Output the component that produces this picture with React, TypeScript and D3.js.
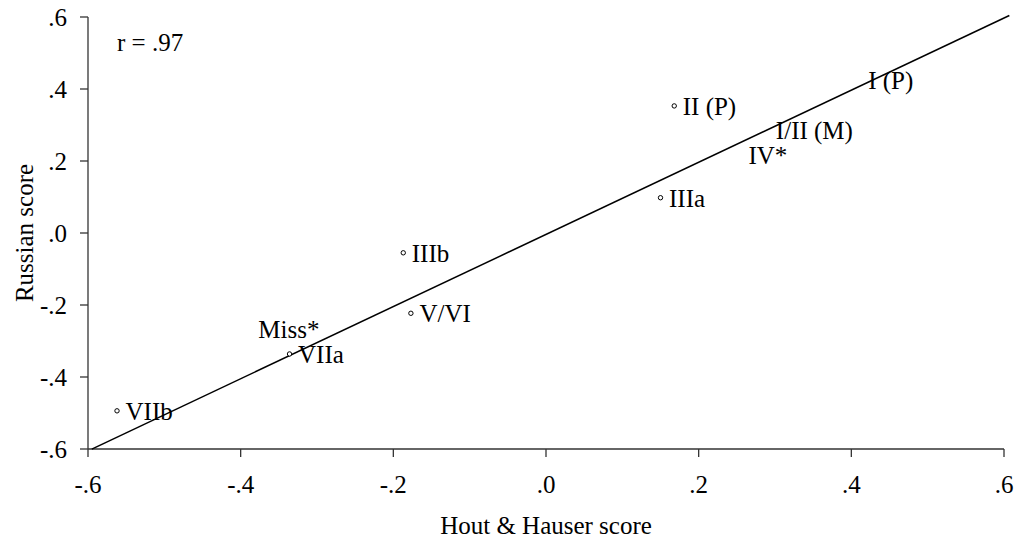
import React from "react";
import * as d3 from "d3";

// ---- Data ----
const labels = ["I (P)", "II (P)", "I/II (M)", "IV*", "IIIa", "IIIb", "V/VI", "Miss*", "VIIa", "VIIb"];
const houtHauser = [0.411, 0.168, 0.29, 0.254, 0.15, -0.187, -0.177, -0.388, -0.336, -0.562];
const russian = [0.425, 0.353, 0.285, 0.216, 0.098, -0.055, -0.223, -0.268, -0.336, -0.494];
const showMarker = [false, true, false, false, true, true, true, false, true, true];

const xTicks = [-0.6, -0.4, -0.2, 0, 0.2, 0.4, 0.6];
const xTickLabels = ["-.6", "-.4", "-.2", ".0", ".2", ".4", ".6"];
const yTicks = [-0.6, -0.4, -0.2, 0, 0.2, 0.4, 0.6];
const yTickLabels = ["-.6", "-.4", "-.2", ".0", ".2", ".4", ".6"];

const fitIntercept = -0.004;
const fitSlope = 1.002;
const fitRange = [-0.595, 0.607];
const rText = "r = .97";
const xTitle = "Hout & Hauser score";
const yTitle = "Russian score";

const W = 1020;
const H = 540;
const FONT = "'Liberation Serif', 'Times New Roman', serif";
const FS = 25;

export default function App() {
  const x = d3.scaleLinear().domain([-0.6, 0.6]).range([88, 1004]);
  const y = d3.scaleLinear().domain([-0.6, 0.6]).range([449, 17]);

  const fitLine = d3
    .line<number>()
    .x((d) => x(d))
    .y((d) => y(fitIntercept + fitSlope * d));

  return (
    <svg
      width={W}
      height={H}
      style={{ position: "absolute", left: 0, top: 0, background: "#fff" }}
      fontFamily={FONT}
    >
      <rect x={0} y={0} width={W} height={H} fill="#fff" />
      {/* axes */}
      <line x1={x(-0.6)} x2={x(-0.6)} y1={y(0.6)} y2={y(-0.6)} stroke="#333" strokeWidth={1.3} />
      <line x1={x(-0.6)} x2={x(0.6)} y1={y(-0.6)} y2={y(-0.6)} stroke="#333" strokeWidth={1.3} />
      {yTicks.map((t, i) => (
        <g key={"yt" + i}>
          <line x1={x(-0.6) - 8} x2={x(-0.6)} y1={y(t)} y2={y(t)} stroke="#333" strokeWidth={1.3} />
          <text x={x(-0.6) - 21} y={y(t) + 9} textAnchor="end" fontSize={FS} fill="#000">
            {yTickLabels[i]}
          </text>
        </g>
      ))}
      {xTicks.map((t, i) => (
        <g key={"xt" + i}>
          <line x1={x(t)} x2={x(t)} y1={y(-0.6)} y2={y(-0.6) + 8} stroke="#333" strokeWidth={1.3} />
          <text x={x(t)} y={y(-0.6) + 44} textAnchor="middle" fontSize={FS} fill="#000">
            {xTickLabels[i]}
          </text>
        </g>
      ))}
      {/* regression line */}
      <path d={fitLine(fitRange) || ""} fill="none" stroke="#000" strokeWidth={1.5} />
      {/* points */}
      {labels.map((lab, i) => (
        <g key={"p" + i}>
          {showMarker[i] && (
            <circle cx={x(houtHauser[i])} cy={y(russian[i])} r={2.2} fill="#fff" stroke="#000" strokeWidth={1} />
          )}
          <text x={x(houtHauser[i]) + 8.5} y={y(russian[i]) + 9} fontSize={FS} fill="#000">
            {lab}
          </text>
        </g>
      ))}
      <text x={117} y={51} fontSize={FS} fill="#000">
        {rText}
      </text>
      <text x={x(0)} y={534} textAnchor="middle" fontSize={FS} fill="#000">
        {xTitle}
      </text>
      <text
        transform={`translate(33,${y(0)}) rotate(-90)`}
        textAnchor="middle"
        fontSize={FS}
        fill="#000"
      >
        {yTitle}
      </text>
    </svg>
  );
}
